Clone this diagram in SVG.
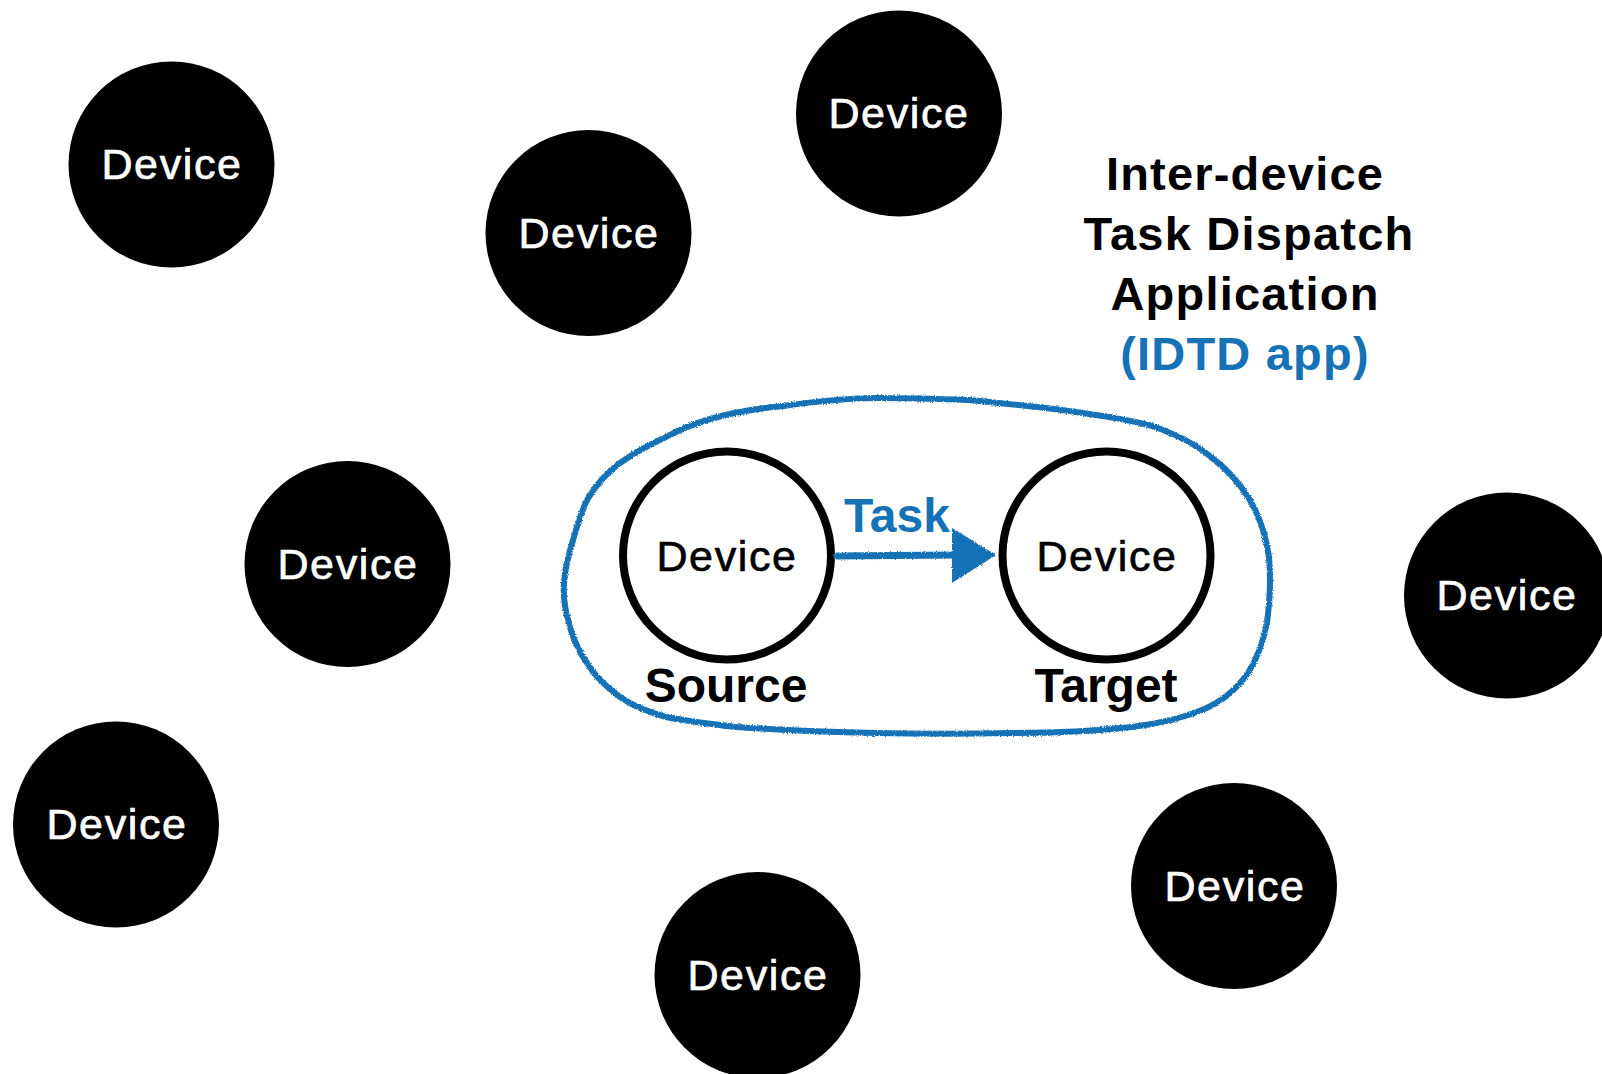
<svg xmlns="http://www.w3.org/2000/svg" width="1602" height="1074" viewBox="0 0 1602 1074">
<style>
  .dev { fill: #000; }
  .devtxt { font-family: "Liberation Sans", Arial, sans-serif; font-size: 43px; letter-spacing: 1.6px; fill: #fff; stroke: #fff; stroke-width: 0.7px; text-anchor: middle; }
  .ring { fill: #fff; stroke: #000; stroke-width: 8; }
  .ringtxt { font-family: "Liberation Sans", Arial, sans-serif; font-size: 43px; letter-spacing: 1.6px; fill: #000; stroke: #000; stroke-width: 0.7px; text-anchor: middle; }
  .lbl { font-family: "Liberation Sans", Arial, sans-serif; font-size: 48px; font-weight: bold; fill: #000; text-anchor: middle; }
  .title { font-family: "Liberation Sans", Arial, sans-serif; font-size: 47px; font-weight: bold; letter-spacing: 1.2px; fill: #000; text-anchor: middle; }
  .blue { fill: #1572b6; }
  .crayon { fill: none; stroke: #1572b6; stroke-linecap: round; stroke-linejoin: round; }
</style>
<defs>
  <filter id="rough" x="-5%" y="-5%" width="110%" height="110%">
    <feTurbulence type="fractalNoise" baseFrequency="0.9" numOctaves="2" seed="3" result="n"/>
    <feDisplacementMap in="SourceGraphic" in2="n" scale="3" xChannelSelector="R" yChannelSelector="G"/>
  </filter>
</defs>
<rect width="1602" height="1074" fill="#fff"/>

<g id="device-1"><circle class="dev" cx="171.5" cy="164.5" r="103"/><text class="devtxt" x="172" y="179">Device</text></g>
<g id="device-2"><circle class="dev" cx="588.5" cy="233" r="103"/><text class="devtxt" x="589" y="247.5">Device</text></g>
<g id="device-3"><circle class="dev" cx="899" cy="113.5" r="103"/><text class="devtxt" x="899" y="128">Device</text></g>
<g id="device-4"><circle class="dev" cx="347.5" cy="564" r="103"/><text class="devtxt" x="348" y="578.5">Device</text></g>
<g id="device-5"><circle class="dev" cx="116" cy="824.5" r="103"/><text class="devtxt" x="117" y="839">Device</text></g>
<g id="device-6"><circle class="dev" cx="757.5" cy="975" r="103"/><text class="devtxt" x="758" y="989.5">Device</text></g>
<g id="device-7"><circle class="dev" cx="1234" cy="886" r="103"/><text class="devtxt" x="1235" y="900.5">Device</text></g>
<g id="device-8"><circle class="dev" cx="1507" cy="595.5" r="103"/><text class="devtxt" x="1507" y="610">Device</text></g>

<g id="idtd-group">
  <path class="crayon" stroke-width="6" filter="url(#rough)" d="M666,437 C700,418 740,410 783,406 C820,401 850,398 876,398 C910,398 940,399 969,400 C1000,403 1030,406 1062,410 C1095,415 1130,419 1155,427 C1180,436 1198,446 1211,457 C1228,470 1240,484 1248,497 C1260,516 1266,536 1269,557 C1271,580 1270,602 1267,623 C1263,642 1257,659 1248,673 C1236,690 1222,702 1202,710 C1180,719 1157,724 1132,727 C1095,731 1055,733 1015,733 C970,734 920,734 876,733 C830,732 780,730 736,727 C710,724 686,721 666,717 C645,711 630,704 620,697 C605,686 594,675 587,663 C578,650 572,637 569,623 C565,610 563,597 564,583 C565,568 569,553 573,540 C577,526 581,513 587,500 C596,485 606,473 620,463 C634,453 649,445 666,437 Z"/>
</g>

<g id="source">
  <circle class="ring" cx="727" cy="555.5" r="104"/>
  <text class="ringtxt" x="727" y="571">Device</text>
  <text class="lbl" x="726" y="701.5">Source</text>
</g>
<g id="target">
  <circle class="ring" cx="1106.5" cy="555.5" r="104"/>
  <text class="ringtxt" x="1107" y="571">Device</text>
  <text class="lbl" x="1106" y="701.5">Target</text>
</g>

<g id="connectors">
  <g filter="url(#rough)">
    <path class="crayon" stroke-width="7" d="M837,556 L955,555"/>
    <polygon class="blue" points="952,528 996,555 952,583"/>
  </g>
  <text class="lbl blue" x="897" y="531.5" style="fill:#1572b6">Task</text>
</g>

<g id="title">
  <text class="title" x="1245" y="190">Inter-device</text>
  <text class="title" x="1249" y="250">Task Dispatch</text>
  <text class="title" x="1245" y="310">Application</text>
  <text class="title" x="1245" y="370" style="fill:#1572b6">(IDTD app)</text>
</g>
</svg>
